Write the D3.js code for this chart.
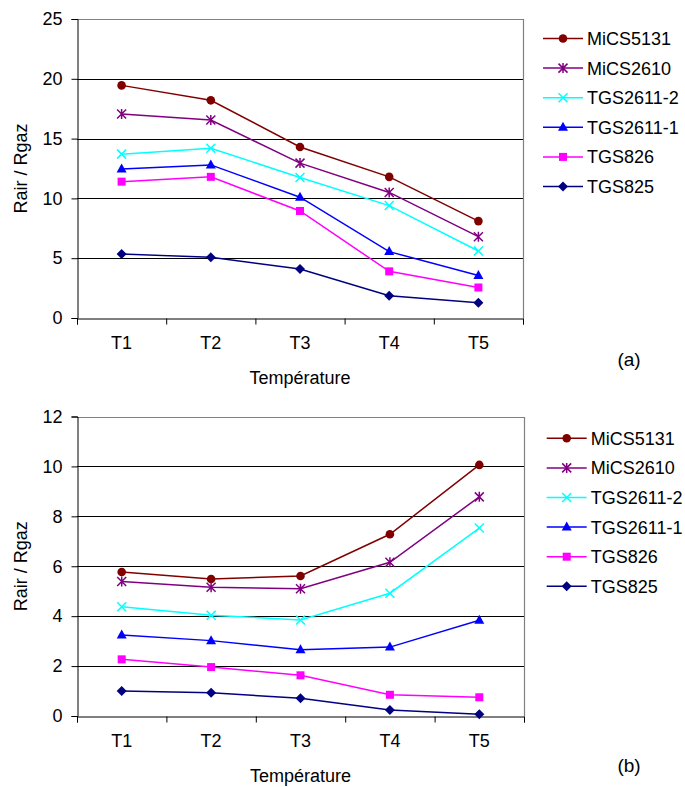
<!DOCTYPE html>
<html><head><meta charset="utf-8">
<script src="https://cdn.jsdelivr.net/npm/d3@7/dist/d3.min.js"></script>
<style>
body{margin:0;background:#fff;}
text{font-family:"Liberation Sans",Arial,sans-serif;fill:#000;}
</style></head>
<body>
<svg id="c" width="685" height="787"></svg>
<script>
const categories = ["T1","T2","T3","T4","T5"];
const seriesNames = ["MiCS5131","MiCS2610","TGS2611-2","TGS2611-1","TGS826","TGS825"];
const seriesColors = ["#800000","#800080","#00ffff","#0000ff","#ff00ff","#000080"];
const seriesMarkers = ["circle","star","x","triangle","square","diamond"];

// Chart (a)
const valuesA_MiCS5131 = [19.45, 18.2, 14.3, 11.8, 8.1];
const valuesA_MiCS2610 = [17.05, 16.55, 12.95, 10.5, 6.8];
const valuesA_TGS2611_2 = [13.7, 14.2, 11.75, 9.4, 5.6];
const valuesA_TGS2611_1 = [12.45, 12.8, 10.1, 5.55, 3.55];
const valuesA_TGS826 = [11.4, 11.8, 8.95, 3.9, 2.55];
const valuesA_TGS825 = [5.35, 5.07, 4.1, 1.86, 1.28];
const ticksA = [0,5,10,15,20,25];

// Chart (b)
const valuesB_MiCS5131 = [5.77, 5.49, 5.61, 7.28, 10.06];
const valuesB_MiCS2610 = [5.39, 5.16, 5.1, 6.16, 8.78];
const valuesB_TGS2611_2 = [4.38, 4.04, 3.85, 4.92, 7.53];
const valuesB_TGS2611_1 = [3.25, 3.02, 2.65, 2.76, 3.84];
const valuesB_TGS826 = [2.27, 1.96, 1.63, 0.85, 0.75];
const valuesB_TGS825 = [1.0, 0.93, 0.71, 0.24, 0.07];
const ticksB = [0,2,4,6,8,10,12];

const xTitle = "Température";
const yTitle = "Rair / Rgaz";

const svg = d3.select("#c");
const FS = 18;

function marker(g, type, color){
  const s = 4.5;
  if(type==="circle"){
    g.append("circle").attr("r",4.3).attr("fill",color);
  } else if(type==="square"){
    g.append("rect").attr("x",-4).attr("y",-4).attr("width",8).attr("height",8).attr("fill",color);
  } else if(type==="diamond"){
    g.append("path").attr("d","M0,-5L5,0L0,5L-5,0Z").attr("fill",color);
  } else if(type==="triangle"){
    g.append("path").attr("d","M0,-5.5L5,3.5L-5,3.5Z").attr("fill",color);
  } else if(type==="x"){
    g.append("path").attr("d",`M${-s},${-s}L${s},${s}M${-s},${s}L${s},${-s}`).attr("stroke",color).attr("stroke-width",1.5).attr("fill","none");
  } else if(type==="star"){
    g.append("path").attr("d",`M${-s},${-s}L${s},${s}M${-s},${s}L${s},${-s}M0,${-s-0.5}L0,${s+0.5}`).attr("stroke",color).attr("stroke-width",1.5).attr("fill","none");
  }
}

function drawChart(cfg){
  const {left,right,top,bottom,ticks,series,tag,tagY,legendTop} = cfg;
  const g = svg.append("g");
  const x = d3.scaleBand().domain(categories).range([left,right]);
  const xb = d3.scaleLinear().domain([0,categories.length]).range([left,right]);
  const y = d3.scaleLinear().domain([ticks[0],ticks[ticks.length-1]]).range([bottom,top]);

  // gridlines
  g.append("g").selectAll("line").data(ticks.slice(1,-1)).join("line")
    .attr("x1",left).attr("x2",right)
    .attr("y1",d=>Math.round(y(d))+0.5).attr("y2",d=>Math.round(y(d))+0.5)
    .attr("stroke","#000").attr("stroke-width",1);
  // frame top/right gray
  g.append("path")
    .attr("d",`M${left},${Math.round(top)+0.5}H${Math.round(right)+0.5}V${Math.round(bottom)}`)
    .attr("fill","none").attr("stroke","#808080").attr("stroke-width",1.2);

  // y axis
  const ya = g.append("g").attr("transform",`translate(${Math.round(left)+0.5},0)`)
    .call(d3.axisLeft(y).tickValues(ticks).tickSize(6).tickPadding(9).tickFormat(d3.format("d")));
  ya.select(".domain").attr("stroke","#000");
  ya.selectAll("line").attr("stroke","#000");
  ya.selectAll("text").attr("font-size",FS).attr("font-family","Liberation Sans, Arial, sans-serif");

  // x axis boundary ticks
  const xa = g.append("g").attr("transform",`translate(0,${Math.round(bottom)+0.5})`)
    .call(d3.axisBottom(xb).tickValues(d3.range(categories.length+1)).tickSize(6).tickFormat(""));
  xa.select(".domain").attr("stroke","#000");
  xa.selectAll("line").attr("stroke","#000");
  // x category labels
  g.append("g").selectAll("text").data(categories).join("text")
    .attr("x",d=>x(d)+x.bandwidth()/2).attr("y",bottom+31)
    .attr("text-anchor","middle").attr("font-size",FS).text(d=>d);

  // titles
  g.append("text").attr("x",(left+right)/2).attr("y",bottom+66)
    .attr("text-anchor","middle").attr("font-size",FS).text(xTitle);
  g.append("text").attr("transform",`translate(27,${(top+bottom)/2}) rotate(-90)`)
    .attr("text-anchor","middle").attr("font-size",FS).text(yTitle);
  g.append("text").attr("x",629).attr("y",tagY).attr("text-anchor","middle").attr("font-size",FS+1).text(tag);

  // series
  const line = d3.line().x((d,i)=>x(categories[i])+x.bandwidth()/2).y(d=>y(d));
  series.forEach((vals,si)=>{
    g.append("path").datum(vals).attr("d",line).attr("fill","none")
      .attr("stroke",seriesColors[si]).attr("stroke-width",1.5);
    vals.forEach((v,i)=>{
      const mg = g.append("g").attr("transform",`translate(${x(categories[i])+x.bandwidth()/2},${y(v)})`);
      marker(mg, seriesMarkers[si], seriesColors[si]);
    });
  });

  // legend
  const lg = g.append("g");
  seriesNames.forEach((n,i)=>{
    const ly = legendTop + i*29.6;
    lg.append("line").attr("x1",cfg.legX).attr("x2",cfg.legX+40).attr("y1",ly).attr("y2",ly)
      .attr("stroke",seriesColors[i]).attr("stroke-width",1.5);
    const mg = lg.append("g").attr("transform",`translate(${cfg.legX+20},${ly})`);
    marker(mg, seriesMarkers[i], seriesColors[i]);
    lg.append("text").attr("x",cfg.legX+44).attr("y",ly+6.5).attr("font-size",FS).text(n);
  });
}

drawChart({left:77,right:523,top:19,bottom:318,ticks:ticksA,
  series:[valuesA_MiCS5131,valuesA_MiCS2610,valuesA_TGS2611_2,valuesA_TGS2611_1,valuesA_TGS826,valuesA_TGS825],
  tag:"(a)",tagY:366,legendTop:38.5,legX:543});
drawChart({left:77,right:524,top:416.5,bottom:716,ticks:ticksB,
  series:[valuesB_MiCS5131,valuesB_MiCS2610,valuesB_TGS2611_2,valuesB_TGS2611_1,valuesB_TGS826,valuesB_TGS825],
  tag:"(b)",tagY:772,legendTop:438.3,legX:546.7});
</script>
</body></html>
